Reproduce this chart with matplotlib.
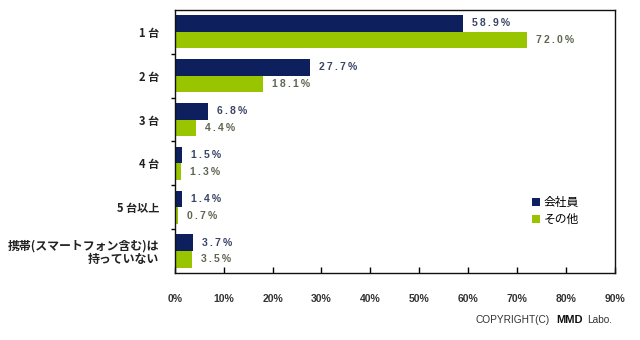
import matplotlib
matplotlib.use('Agg')
import matplotlib.pyplot as plt
import numpy as np

plt.rcParams['font.family'] = ['Noto Sans CJK JP', 'DejaVu Sans']

categories = ['1 台', '2 台', '3 台', '4 台', '5 台以上', '携帯(スマートフォン含む)は\n持っていない']
employees = [58.9, 27.7, 6.8, 1.5, 1.4, 3.7]
others = [72.0, 18.1, 4.4, 1.3, 0.7, 3.5]
series_names = ['会社員', 'その他']
x_ticks = [0, 10, 20, 30, 40, 50, 60, 70, 80, 90]

navy = '#0d1f5c'
green = '#99c400'
latin = ['Liberation Sans', 'DejaVu Sans']


def spaced(s):
    # the original labels are letter-spaced
    return '\u2009'.join(s)


fig = plt.figure(figsize=(6.4, 3.4), dpi=100)
ax = fig.add_axes([0.273, 0.197, 0.688, 0.774])

pos = np.arange(len(categories))
h = 0.38
ax.barh(pos - h / 2, employees, height=h, color=navy, label=series_names[0])
ax.barh(pos + h / 2, others, height=h, color=green, label=series_names[1])

# value labels to the right of each bar
for p, v in zip(pos, employees):
    ax.annotate(spaced('%.1f%%' % v), (v, p - h / 2), xytext=(6.5, 0), textcoords='offset points',
                va='center', ha='left', fontsize=7.5, fontweight='bold', color='#3a4466',
                family=latin)
for p, v in zip(pos, others):
    ax.annotate(spaced('%.1f%%' % v), (v, p + h / 2), xytext=(6.5, 0), textcoords='offset points',
                va='center', ha='left', fontsize=7.5, fontweight='bold', color='#5e6650',
                family=latin)

ax.set_xlim(0, 90)
ax.set_ylim(len(categories) - 0.5, -0.5)

ax.set_xticks(x_ticks)
ax.set_xticklabels(['%d%%' % t for t in x_ticks], fontsize=7.5, fontweight='bold',
                   color='#333333', family=latin)
ax.tick_params(axis='x', direction='in', length=4, pad=15, width=1)

ax.set_yticks(pos)
ax.set_yticklabels(categories, fontsize=8, fontweight='bold', color='#222222', linespacing=1.0)
ax.get_yticklabels()[-1].set_fontsize(8.6)
ax.tick_params(axis='y', length=0, pad=11)
ax.set_yticks(pos[:-1] + 0.5, minor=True)
ax.tick_params(axis='y', which='minor', direction='out', length=3, width=1)

for s in ax.spines.values():
    s.set_linewidth(1.0)
    s.set_color('#111111')

ax.legend(loc='upper left', bbox_to_anchor=(0.80, 0.31), frameon=False, fontsize=8.5,
          handlelength=0.7, handleheight=0.7, handletextpad=0.3, labelspacing=0.35,
          borderaxespad=0)

y_copy = 1 - 320 / 340
fig.text(476 / 640, y_copy, 'COPYRIGHT(C)', fontsize=7.3, color='#333333', va='center', family=latin)
fig.text(556 / 640, y_copy, 'MMD', fontsize=8, fontweight='bold', color='#111111',
         va='center', family=latin)
fig.text(587 / 640, y_copy, 'Labo.', fontsize=7.3, color='#333333', va='center', family=latin)

fig.savefig('out.png', dpi=100)
